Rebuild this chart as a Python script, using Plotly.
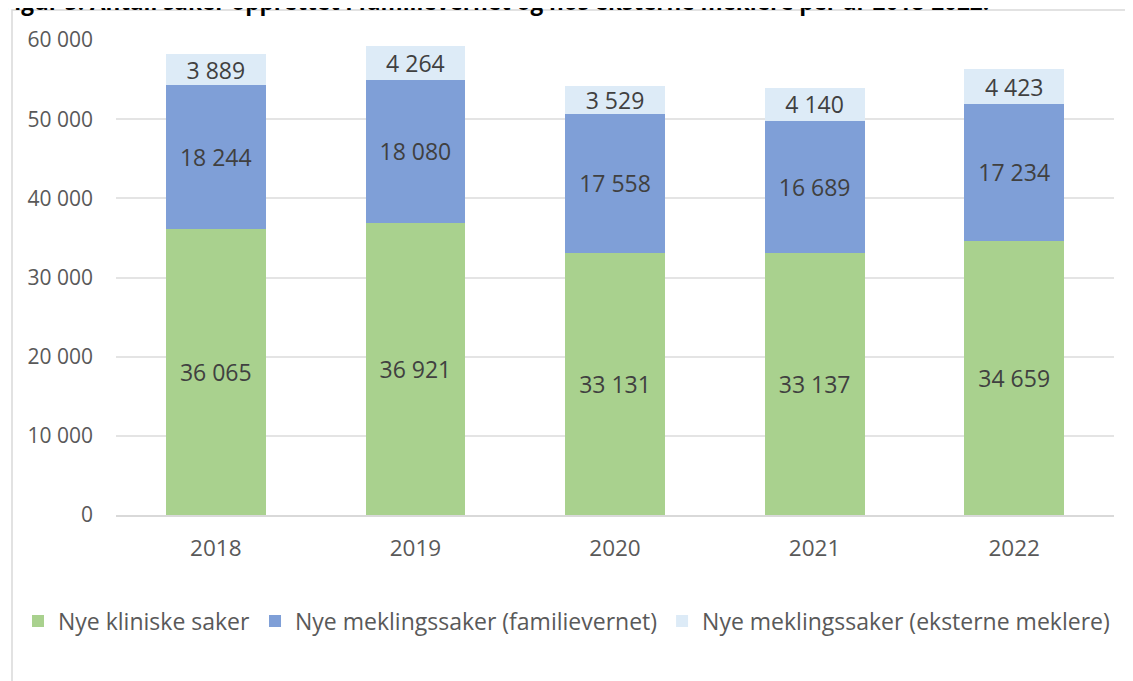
import plotly.graph_objects as go

years = ["2018", "2019", "2020", "2021", "2022"]
kliniske = [36065, 36921, 33131, 33137, 34659]
megling_fv = [18244, 18080, 17558, 16689, 17234]
megling_ext = [3889, 4264, 3529, 4140, 4423]
series_names = ["Nye kliniske saker", "Nye meklingssaker (familievernet)", "Nye meklingssaker (eksterne meklere)"]
colors = ["#A9D18E", "#7F9FD7", "#DDEBF7"]
y_ticks = [0, 10000, 20000, 30000, 40000, 50000, 60000]

def fmt(v):
    return f"{v:,}".replace(",", " ")

# page has an 8px body margin, so the svg origin sits at (8, 8)
OFF = 8
W, H = 1133 - OFF, 681 - OFF
L, R, T, B = 116 - OFF, 1114 - OFF, 40 - OFF, 515 - OFF

fig = go.Figure()
for name, vals, col in zip(series_names, [kliniske, megling_fv, megling_ext], colors):
    fig.add_trace(go.Bar(
        x=years, y=vals, name=name, marker=dict(color=col, line=dict(width=0)),
        text=[fmt(v) for v in vals], textposition="inside", insidetextanchor="middle",
        textangle=0, textfont=dict(family="Open Sans", size=23, color="#404040"),
        constraintext="none", hoverinfo="skip",
    ))

pw, ph = R - L, B - T
def px_x(x):
    return (x - OFF - L) / pw
def px_y(y):
    return (B - (y - OFF)) / ph

fig.update_layout(
    width=W, height=H, barmode="stack", bargap=0.5,
    margin=dict(l=L, r=W - R, t=T, b=H - B, autoexpand=False),
    plot_bgcolor="white", paper_bgcolor="white",
    font=dict(family="Open Sans", color="#595959"),
    showlegend=True,
    legend=dict(orientation="h", x=px_x(18), xanchor="left",
                y=px_y(621), yanchor="middle",
                font=dict(size=23, color="#595959"), traceorder="normal",
                itemwidth=30),
    xaxis=dict(showgrid=False, showline=True, linecolor="#D9D9D9", linewidth=1.5,
               ticks="", tickfont=dict(size=22.5, color="#595959"), ticklabelstandoff=12),
    yaxis=dict(range=[0, 60000], tickvals=y_ticks, ticktext=[fmt(v) for v in y_ticks],
               showgrid=True, gridcolor="#E4E4E4", gridwidth=1.5, zeroline=False,
               showline=False, ticks="", tickfont=dict(size=21, color="#595959"),
               ticklabelstandoff=22),
    shapes=[dict(type="rect", xref="paper", yref="paper",
                 x0=px_x(12), x1=px_x(1160), y0=px_y(700), y1=px_y(10),
                 line=dict(color="#D9D9D9", width=1.5), fillcolor="rgba(0,0,0,0)", layer="below")],
    annotations=[dict(text="<b>Figur 5: Antall saker opprettet i familievernet og hos eksterne meklere per år 2018-2022.</b>",
                      xref="paper", yref="paper", x=px_x(0), y=px_y(1), xanchor="left", yanchor="middle",
                      showarrow=False, font=dict(family="Open Sans", size=22.5, color="black"))],
)

fig.write_html("out.html")
